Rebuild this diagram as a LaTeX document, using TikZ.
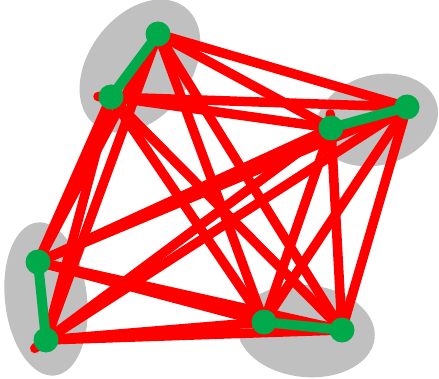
\documentclass[tikz,border=0pt]{standalone}
\definecolor{nodegreen}{RGB}{0,170,75}
\definecolor{blobgray}{RGB}{192,192,192}
\definecolor{edgered}{RGB}{255,0,0}
\tikzset{
  vtx/.style={circle,fill=nodegreen,inner sep=0pt,minimum size=25pt},
  redge/.style={draw=edgered,line width=9.5pt,line cap=round},
  gedge/.style={draw=nodegreen,line width=10pt},
  blob/.style={fill=blobgray}
}
\begin{document}
\begin{tikzpicture}[x=1pt,y=-1pt]
\useasboundingbox (0,0) rectangle (439,379);
% clusters
\fill[blob,rotate around={52.8:(140,66)}] (140,66) ellipse [x radius=74pt,y radius=51pt];
\fill[blob,rotate around={15:(377,120)}] (377,120) ellipse [x radius=62pt,y radius=45pt];
\fill[blob,rotate around={-83.4:(46,299)}] (46,299) ellipse [x radius=77pt,y radius=41pt];
\fill[blob,rotate around={-6:(306,331)}] (306,331) ellipse [x radius=69pt,y radius=46pt];
% vertices
\coordinate (a1) at (158,34);
\coordinate (a2) at (111,97);
\coordinate (b1) at (331,128);
\coordinate (b2) at (407,107);
\coordinate (c1) at (38,262);
\coordinate (c2) at (46,340);
\coordinate (d1) at (264,322);
\coordinate (d2) at (342,330);
% red edges
\foreach \v in {b1,b2,c1,c2,d1,d2}{\draw[redge] (a1) -- (\v);}
\foreach \v in {b1,c1,c2,d1,d2}{\draw[redge] (a2) -- (\v);}
\draw[redge,shorten <=-13pt] (a2) -- (b2);
\foreach \v in {c1,d1}{\draw[redge] (b1) -- (\v);}
\draw[redge,shorten >=-14pt] (b1) -- (c2);
\draw[redge,shorten >=-14pt] (d2) -- (b1);
\foreach \v in {c1,c2,d1,d2}{\draw[redge] (b2) -- (\v);}
\foreach \u in {c1,c2}{\foreach \v in {d1,d2}{\draw[redge] (\u) -- (\v);}}
% green edges
\draw[gedge] (a1) -- (a2);
\draw[gedge] (b1) -- (b2);
\draw[gedge] (c1) -- (c2);
\draw[gedge] (d1) -- (d2);
\node[vtx] (A1) at (a1) {};
\node[vtx] (A2) at (a2) {};
\node[vtx] (B1) at (b1) {};
\node[vtx] (B2) at (b2) {};
\node[vtx] (C1) at (c1) {};
\node[vtx] (C2) at (c2) {};
\node[vtx] (D1) at (d1) {};
\node[vtx] (D2) at (d2) {};
\end{tikzpicture}
\end{document}
